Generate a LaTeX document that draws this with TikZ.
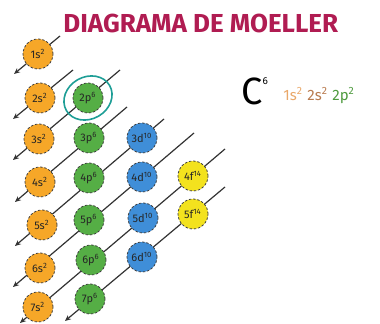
\documentclass[tikz,border=0pt]{standalone}
\usepackage{fontspec}
\setmainfont{Fira Sans}
\usetikzlibrary{arrows.meta,backgrounds}
\definecolor{moelS}{HTML}{F6A728}
\definecolor{moelP}{HTML}{55AE45}
\definecolor{moelD}{HTML}{3F8ED8}
\definecolor{moelF}{HTML}{F3E21E}
\definecolor{moelTitle}{HTML}{B01C52}
\definecolor{moelRing}{HTML}{1E9E96}
\definecolor{cfgA}{HTML}{E9A86A}
\definecolor{cfgB}{HTML}{B87A4E}
\definecolor{cfgC}{HTML}{4E9A3E}
\tikzset{
  orbital/.style={circle, draw=black!75, dashed, dash pattern=on 1.2pt off 0.9pt, minimum size=15pt, inner sep=0pt, font=\fontsize{5.5}{5.5}\selectfont, text=black!85},
  sorb/.style={orbital, fill=moelS},
  porb/.style={orbital, fill=moelP},
  dorb/.style={orbital, fill=moelD},
  forb/.style={orbital, fill=moelF},
  diag/.style={draw=black!80, line width=0.6pt, -{Stealth[length=3pt,width=2.6pt]}},
  cfg/.style={anchor=base west, inner sep=0pt, font=\fontsize{7.5}{7.5}\selectfont}
}

\begin{document}
\begin{tikzpicture}[x=0.5pt,y=-0.5pt]
\useasboundingbox (0,0) rectangle (380,324);
\node[anchor=base west, inner sep=0pt, text=moelTitle, font=\bfseries\fontsize{13}{13}\selectfont] (title) at (63,33) {DIAGRAMA DE MOELLER};
\node[sorb] (o1s) at (38,54) {1s\textsuperscript{2}};
\node[sorb] (o2s) at (40,98) {2s\textsuperscript{2}};
\node[sorb] (o3s) at (39,139) {3s\textsuperscript{2}};
\node[sorb] (o4s) at (40,182) {4s\textsuperscript{2}};
\node[sorb] (o5s) at (42,225) {5s\textsuperscript{2}};
\node[sorb] (o6s) at (40,268) {6s\textsuperscript{2}};
\node[sorb] (o7s) at (38,307) {7s\textsuperscript{2}};
\node[porb] (o2p) at (88,98) {2p\textsuperscript{6}};
\node[porb] (o3p) at (89,138) {3p\textsuperscript{6}};
\node[porb] (o4p) at (89,178) {4p\textsuperscript{6}};
\node[porb] (o5p) at (89,220) {5p\textsuperscript{6}};
\node[porb] (o6p) at (91,260) {6p\textsuperscript{6}};
\node[porb] (o7p) at (90,299) {7p\textsuperscript{6}};
\node[dorb] (o3d) at (142,138) {3d\textsuperscript{10}};
\node[dorb] (o4d) at (142,177) {4d\textsuperscript{10}};
\node[dorb] (o5d) at (143,218) {5d\textsuperscript{10}};
\node[dorb] (o6d) at (142,257) {6d\textsuperscript{10}};
\node[forb] (o4f) at (193,176) {4f\textsuperscript{14}};
\node[forb] (o5f) at (193,214) {5f\textsuperscript{14}};
\begin{scope}[on background layer]
\draw[diag] ([shift={(22,-18)}]o1s.center) -- ([shift={(-24,20)}]o1s.center);
\draw[diag] ([shift={(33,-28)}]o2s.center) -- ([shift={(-27,21)}]o2s.center);
\draw[diag] ([shift={(32,-28)}]o2p.center) -- ([shift={(-26,21)}]o3s.center);
\draw[diag] ([shift={(38,-31)}]o3p.center) -- ([shift={(-25,20)}]o4s.center);
\draw[diag] ([shift={(22,-19)}]o3d.center) -- ([shift={(-27,21)}]o5s.center);
\draw[diag] ([shift={(52,-44)}]o4d.center) -- ([shift={(-27,19)}]o6s.center);
\draw[diag] ([shift={(32,-27)}]o4f.center) -- ([shift={(-18,16)}]o7s.center);
\draw[diag] ([shift={(32,-27)}]o5f.center) -- ([shift={(-25,22)}]o7p.center);
\end{scope}
\draw[moelRing, line width=0.8pt] (o2p.center) ellipse [x radius=12.5pt, y radius=10.5pt, rotate=30];
\node[anchor=base west, inner sep=0pt, font=\fontsize{19}{19}\selectfont] (carbon) at (241,105) {C\raisebox{10pt}{\fontsize{5}{5}\selectfont 6}};
\node[cfg, text=cfgA] (cfg1s) at (283,101) {1s\textsuperscript{2}};
\node[cfg, text=cfgB] (cfg2s) at (307,101) {2s\textsuperscript{2}};
\node[cfg, text=cfgC] (cfg2p) at (332,101) {2p\textsuperscript{2}};
\end{tikzpicture}
\end{document}
